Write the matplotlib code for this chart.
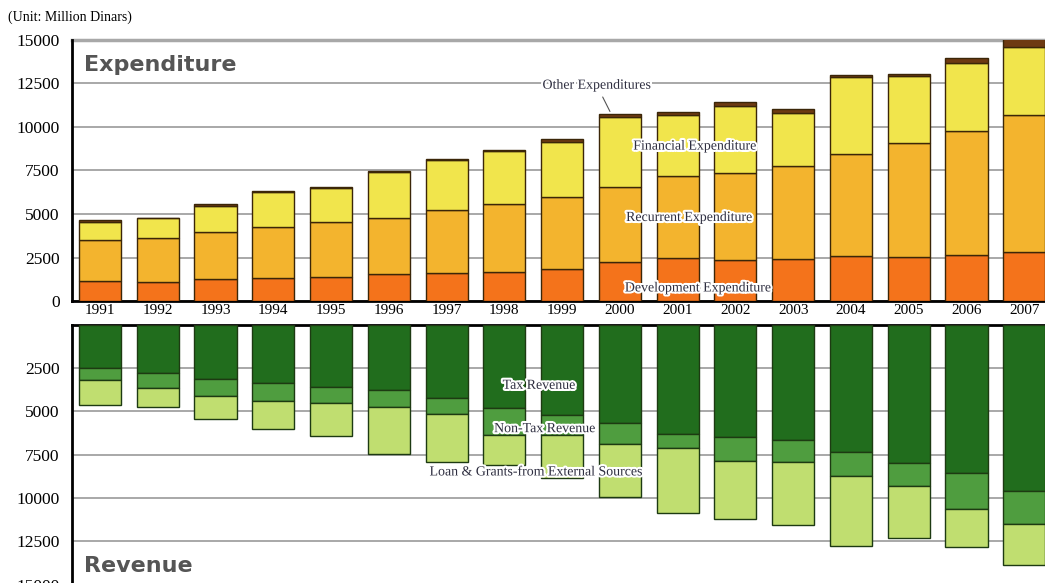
import matplotlib.pyplot as plt
import matplotlib.patheffects as pe
import numpy as np

# Werte in Millionen Dinar
years = [str(y) for y in range(1991, 2008)]

development = [1150, 1110, 1250, 1350, 1400, 1540, 1600, 1650, 1830, 2230, 2500,
               2370, 2400, 2560, 2520, 2650, 2810]
recurrent = [2330, 2500, 2710, 2880, 3130, 3230, 3650, 3920, 4150, 4330, 4710,
             5000, 5350, 5900, 6580, 7120, 7860]
financial = [1040, 1150, 1480, 2050, 1980, 2660, 2850, 3050, 3150, 4020, 3500,
             3840, 3080, 4440, 3840, 3880, 3900]
other_exp = [150, 30, 130, 30, 30, 30, 40, 40, 190, 150, 150,
             230, 230, 100, 100, 290, 520]

tax_rev = [2480, 2800, 3130, 3350, 3580, 3770, 4250, 4780, 5190, 5650, 6310,
           6500, 6650, 7330, 8000, 8540, 9580]
non_tax = [710, 830, 960, 1040, 960, 1000, 920, 1580, 1180, 1240, 790,
           1350, 1250, 1400, 1290, 2100, 1940]
loans = [1440, 1130, 1350, 1650, 1870, 2710, 2770, 1740, 2500, 3040, 3750,
         3360, 3690, 4020, 3000, 2170, 2350]

exp_colors = ['#f4731b', '#f3b42e', '#f1e54c', '#6e3a12']
rev_colors = ['#216d1d', '#4f9d3f', '#c0de70']

plt.rcParams['font.family'] = ['Liberation Serif', 'DejaVu Serif']

fig = plt.figure(figsize=(10.45, 5.83), dpi=100)
ax_top = fig.add_axes([0.0689, 0.4837, 0.9311, 0.4477])
ax_bot = fig.add_axes([0.0689, -0.0026, 0.9311, 0.4456])

x = np.arange(len(years))
w = 0.73

# Ausgaben (oben)
bottom = np.zeros(len(years))
for vals, c in zip([development, recurrent, financial, other_exp], exp_colors):
    ax_top.bar(x, vals, w, bottom=bottom, color=c, edgecolor='#3b2608',
               linewidth=1.0, zorder=3)
    bottom += np.array(vals)

# Einnahmen (unten, nach unten wachsend)
bottom = np.zeros(len(years))
for vals, c in zip([tax_rev, non_tax, loans], rev_colors):
    ax_bot.bar(x, vals, w, bottom=bottom, color=c, edgecolor='#1d3a12',
               linewidth=1.0, zorder=3)
    bottom += np.array(vals)

for ax in (ax_top, ax_bot):
    ax.set_xlim(-0.485, 16.36)
    ax.spines['right'].set_visible(False)
    ax.spines['left'].set_linewidth(2)
    ax.yaxis.grid(True, color='#a8a8a8', linewidth=1.4, zorder=0)
    ax.tick_params(axis='both', length=0, labelsize=11)
    ax.tick_params(axis='y', pad=9, labelsize=12.5)

ax_top.set_ylim(0, 15000)
ax_top.set_yticks(range(0, 15001, 2500))
ax_top.spines['top'].set_visible(False)
ax_top.spines['bottom'].set_linewidth(2)
ax_top.set_xticks(x)
ax_top.set_xticklabels(years)
ax_top.tick_params(axis='x', pad=2)
ax_top.axhline(15000, color='#a8a8a8', linewidth=2.5, zorder=1, clip_on=False)

ax_bot.set_ylim(15000, 0)
ax_bot.set_yticks(range(2500, 15001, 2500))
ax_bot.spines['bottom'].set_visible(False)
ax_bot.spines['top'].set_linewidth(2)
ax_bot.set_xticks([])

fig.text(0.008, 0.97, '(Unit: Million Dinars)', fontsize=10, va='center')
ax_top.text(0.012, 0.905, 'Expenditure', transform=ax_top.transAxes,
            family='DejaVu Sans', fontweight='bold', fontsize=16,
            color='#555555', va='center')
ax_bot.text(0.012, 0.07, 'Revenue', transform=ax_bot.transAxes,
            family='DejaVu Sans', fontweight='bold', fontsize=16,
            color='#555555', va='center')

halo = [pe.withStroke(linewidth=3, foreground='white')]
lbl = dict(fontsize=10, color='#2e2e40', ha='center', va='center',
           path_effects=halo, zorder=5)

ax_top.annotate('Other Expenditures', xy=(8.85, 10750), xytext=(8.6, 12400),
                arrowprops=dict(arrowstyle='-', color='#555555', lw=0.8),
                **lbl)
ax_top.text(10.3, 8900, 'Financial Expenditure', **lbl)
ax_top.text(10.2, 4800, 'Recurrent Expenditure', **lbl)
ax_top.text(10.35, 750, 'Development Expenditure', **lbl)

ax_bot.text(7.6, 3500, 'Tax Revenue', **lbl)
ax_bot.text(7.7, 6000, 'Non-Tax Revenue', **lbl)
ax_bot.text(7.55, 8500, 'Loan & Grants-from External Sources', **lbl)

fig.savefig('out.png', dpi=100)
